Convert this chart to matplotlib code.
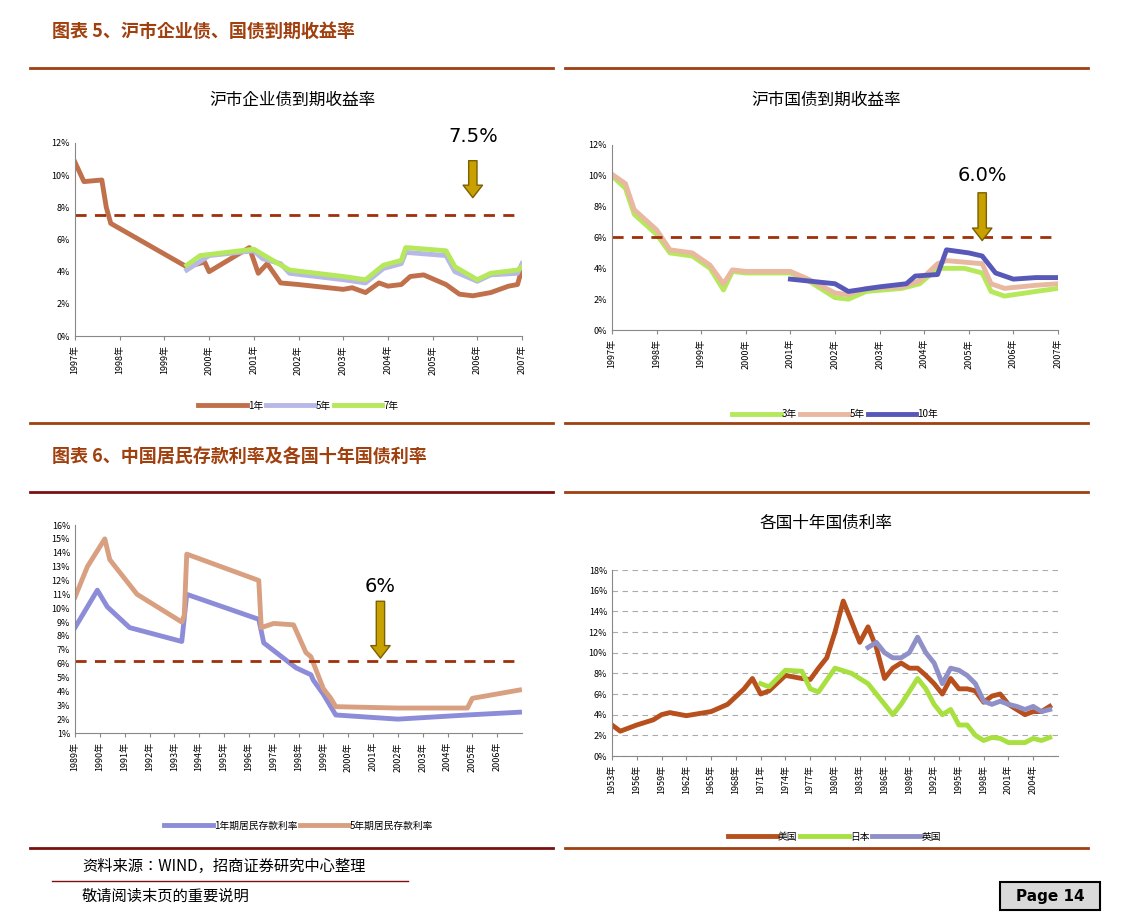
import matplotlib
matplotlib.use("Agg")
import matplotlib.pyplot as plt
from matplotlib import font_manager as fm
from matplotlib.ticker import FuncFormatter

cjk = None
for f in fm.findSystemFonts():
    if 'CJK' in f or 'cjk' in f.lower():
        try:
            fm.fontManager.addfont(f)
        except Exception:
            pass
names = sorted({e.name for e in fm.fontManager.ttflist if 'CJK' in e.name})
pref = [n for n in ['Noto Sans CJK SC', 'Noto Sans CJK JP', 'Noto Sans CJK TC', 'Noto Sans CJK KR'] if n in names]
CJK = (pref + names + ['DejaVu Sans'])[0]
plt.rcParams['font.family'] = [CJK, 'DejaVu Sans']

W, H = 1133, 921
fig = plt.figure(figsize=(W/100, H/100), dpi=100)
BR = '#A0400F'

def ax_px(x0, y0, x1, y1):
    return fig.add_axes([x0/W, 1-y1/H, (x1-x0)/W, (y1-y0)/H])

def ftext(x, y, s, **kw):
    fig.text(x/W, 1-y/H, s, **kw)

def hline(x0, x1, y, color, lw=2):
    fig.add_artist(plt.Line2D([x0/W, x1/W], [1-y/H, 1-y/H], color=color, lw=lw))

# ---------------- data ----------------
p1_t1 = [1997.0,1997.2,1997.6,1997.7,1997.8,1999.5,1999.9,2000.0,2000.9,2001.1,2001.3,2001.6,2002.0,2003.0,2003.2,2003.5,2003.8,2004.0,2004.3,2004.5,2004.8,2005.3,2005.6,2005.9,2006.3,2006.7,2006.9,2007.0]
p1_v1 = [10.8,9.6,9.7,8.0,7.0,4.3,4.6,4.0,5.5,3.9,4.5,3.3,3.2,2.9,3.0,2.7,3.3,3.1,3.2,3.7,3.8,3.2,2.6,2.5,2.7,3.1,3.2,4.2]
p1_t5 = [1999.5,2000.0,2001.0,2001.2,2001.6,2001.8,2003.0,2003.5,2003.9,2004.3,2004.4,2005.3,2005.5,2006.0,2006.3,2006.9,2007.0]
p1_v5 = [4.1,5.0,5.3,4.8,4.5,3.9,3.5,3.3,4.2,4.5,5.2,5.0,4.0,3.4,3.8,3.9,4.5]
p1_t7 = [1999.5,1999.8,2001.0,2001.3,2001.8,2003.0,2003.5,2003.9,2004.3,2004.4,2005.3,2005.5,2006.0,2006.3,2006.9,2007.0]
p1_v7 = [4.4,5.0,5.4,4.9,4.1,3.7,3.5,4.4,4.7,5.5,5.3,4.3,3.5,3.9,4.1,4.3]

p2_t3 = [1997.0,1997.3,1997.5,1998.0,1998.3,1998.8,1999.2,1999.5,1999.7,2000.0,2001.0,2001.4,2002.0,2002.3,2002.7,2003.5,2003.9,2004.3,2004.9,2005.3,2005.5,2005.8,2006.5,2007.0]
p2_v3 = [10.0,9.2,7.5,6.2,5.0,4.8,4.0,2.6,3.8,3.7,3.7,3.2,2.1,2.0,2.5,2.7,3.0,4.0,4.0,3.7,2.5,2.2,2.5,2.7]
p2_t5 = [1997.0,1997.3,1997.5,1998.0,1998.3,1998.8,1999.2,1999.5,1999.7,2000.0,2001.0,2001.4,2002.0,2002.3,2002.7,2003.5,2003.9,2004.3,2004.5,2005.3,2005.5,2005.8,2006.5,2007.0]
p2_v5 = [10.1,9.5,7.8,6.5,5.2,5.0,4.2,3.0,3.9,3.8,3.8,3.3,2.4,2.3,2.7,2.8,3.2,4.3,4.5,4.3,3.0,2.7,2.9,3.0]
p2_t10 = [2001.0,2002.0,2002.3,2003.0,2003.6,2003.8,2004.3,2004.5,2005.0,2005.3,2005.6,2006.0,2006.5,2007.0]
p2_v10 = [3.3,3.0,2.5,2.8,3.0,3.5,3.6,5.2,5.0,4.8,3.7,3.3,3.4,3.4]

p3_t1 = [1989.0,1989.9,1990.3,1991.2,1993.3,1993.5,1996.4,1996.6,1997.9,1998.5,1998.6,1999.0,1999.5,2002.0,2004.8,2006.9]
p3_v1 = [8.6,11.3,10.1,8.6,7.6,11.0,9.2,7.5,5.7,5.2,4.8,3.8,2.3,2.0,2.3,2.5]
p3_t5 = [1989.0,1989.5,1990.2,1990.4,1991.5,1993.3,1993.4,1993.5,1996.4,1996.5,1997.0,1997.8,1998.3,1998.5,1999.0,1999.3,1999.5,2002.0,2004.8,2005.0,2006.9]
p3_v5 = [10.8,13.0,15.0,13.5,11.0,9.0,9.5,13.9,12.0,8.6,8.9,8.8,6.8,6.5,4.2,3.5,2.9,2.8,2.8,3.5,4.1]

p4_tus = [1953,1954,1956,1958,1959,1960,1962,1965,1967,1969,1970,1971,1972,1974,1976,1977,1978,1979,1980,1981,1982,1983,1984,1985,1986,1987,1988,1989,1990,1991,1992,1993,1994,1995,1996,1997,1998,1999,2000,2001,2002,2003,2004,2005,2006]
p4_vus = [3.0,2.4,3.0,3.5,4.0,4.2,3.9,4.3,5.0,6.5,7.5,6.0,6.3,7.8,7.5,7.4,8.5,9.5,12.0,15.0,13.0,11.0,12.5,10.5,7.5,8.5,9.0,8.5,8.5,7.8,7.0,6.0,7.5,6.5,6.5,6.3,5.2,5.8,6.0,5.0,4.5,4.0,4.3,4.3,4.8]
p4_tjp = [1971,1972,1974,1976,1977,1978,1980,1982,1984,1986,1987,1988,1990,1991,1992,1993,1994,1995,1996,1997,1998,1999,2000,2001,2002,2003,2004,2005,2006]
p4_vjp = [7.0,6.7,8.3,8.2,6.5,6.2,8.5,8.0,7.0,5.0,4.0,5.0,7.5,6.5,5.0,4.0,4.5,3.0,3.0,2.0,1.5,1.8,1.7,1.3,1.3,1.3,1.7,1.5,1.8]
p4_tuk = [1984,1985,1986,1987,1988,1989,1990,1991,1992,1993,1994,1995,1996,1997,1998,1999,2000,2001,2002,2003,2004,2005,2006]
p4_vuk = [10.5,11.0,10.0,9.5,9.5,10.0,11.5,10.0,9.0,7.0,8.5,8.3,7.8,7.0,5.3,5.0,5.3,5.0,4.8,4.5,4.8,4.3,4.5]

# ---------------- headers ----------------
ftext(52, 31, '图表 5、沪市企业债、国债到期收益率', color=BR, fontsize=13, fontweight='bold', va='center')
ftext(52, 456, '图表 6、中国居民存款利率及各国十年国债利率', color=BR, fontsize=13, fontweight='bold', va='center')
for y in (68, 423):
    hline(30, 553, y, BR); hline(565, 1088, y, BR)
hline(30, 553, 492, '#7A1010'); hline(565, 1088, 492, BR)
hline(30, 553, 848, '#7A1010'); hline(565, 1088, 848, BR)
ftext(82, 866, '资料来源：WIND，招商证券研究中心整理', fontsize=11, va='center')
hline(52, 408, 881, '#7A1010', lw=1)
ftext(82, 896, '敬请阅读末页的重要说明', fontsize=11, va='center')
fig.add_artist(plt.Rectangle((1000/W, 1-910/H), 100/W, 28/H, facecolor='#D9D9D9',
                             edgecolor='black', lw=1.5))
ftext(1050, 896, 'Page 14', fontsize=11, fontweight='bold', ha='center', va='center',
      fontfamily='DejaVu Sans')

pct = FuncFormatter(lambda v, p: f'{v:.0f}%')

def style(ax, years, lo, hi, step, ymin, ymax):
    ax.set_xlim(lo, hi)
    ax.set_ylim(ymin, ymax)
    ax.set_xticks(years)
    ax.set_xticklabels([f'{int(y)}年' for y in years], rotation=90, fontsize=6.5)
    ax.set_yticks(range(ymin, ymax+1, step))
    ax.yaxis.set_major_formatter(pct)
    ax.tick_params(axis='y', labelsize=6.5, length=0)
    ax.tick_params(axis='x', length=3, color='#888888')
    for s in ('top', 'right'):
        ax.spines[s].set_visible(False)
    for s in ('left', 'bottom'):
        ax.spines[s].set_color('#888888')

def arrow(ax, x, y0, y1, label, ylabel):
    ax.annotate('', xy=(x, y1), xytext=(x, y0),
                arrowprops=dict(facecolor='#C8A000', edgecolor='#7A6000', width=6, headwidth=14, headlength=9))
    ax.text(x, ylabel, label, ha='center', va='center', fontsize=14, fontfamily='DejaVu Sans')

def legend(ax, y):
    return ax.legend(loc='upper center', bbox_to_anchor=(0.5, y), ncol=3, frameon=False,
                     fontsize=7, handlelength=5, columnspacing=0.3, handletextpad=0.1)

# ---------------- panel 1 ----------------
ftext(292, 100, '沪市企业债到期收益率', fontsize=12, ha='center', va='center')
ax1 = ax_px(75, 143, 522, 336)
ax1.plot(p1_t1, p1_v1, color='#C0704A', lw=3.5, label='1年')
ax1.plot(p1_t5, p1_v5, color='#B8B8E8', lw=3.5, label='5年')
ax1.plot(p1_t7, p1_v7, color='#B5E85A', lw=3.5, label='7年')
ax1.axhline(7.5, color='#A0300A', lw=2, ls=(0, (4, 3)))
style(ax1, list(range(1997, 2008)), 1997, 2007, 2, 0, 12)
arrow(ax1, 2005.9, 10.9, 8.6, '7.5%', 12.4)
legend(ax1, -0.29)

# ---------------- panel 2 ----------------
ftext(826, 100, '沪市国债到期收益率', fontsize=12, ha='center', va='center')
ax2 = ax_px(612, 145, 1058, 330)
ax2.plot(p2_t3, p2_v3, color='#B5E85A', lw=3.5, label='3年')
ax2.plot(p2_t5, p2_v5, color='#E8B8A0', lw=3.5, label='5年')
ax2.plot(p2_t10, p2_v10, color='#5858B8', lw=3.5, label='10年')
ax2.axhline(6.0, color='#A0300A', lw=2, ls=(0, (4, 3)))
style(ax2, list(range(1997, 2008)), 1997, 2007, 2, 0, 12)
arrow(ax2, 2005.3, 8.9, 5.8, '6.0%', 10.0)
legend(ax2, -0.38)

# ---------------- panel 3 ----------------
ax3 = ax_px(75, 525, 522, 733)
ax3.plot(p3_t1, p3_v1, color='#8C8CD8', lw=3.5, label='1年期居民存款利率')
ax3.plot(p3_t5, p3_v5, color='#D8A080', lw=3.5, label='5年期居民存款利率')
ax3.axhline(6.2, color='#A0300A', lw=2, ls=(0, (4, 3)))
style(ax3, list(range(1989, 2007)), 1989, 2007, 1, 1, 16)
arrow(ax3, 2001.3, 10.5, 6.4, '6%', 11.6)
legend(ax3, -0.38)

# ---------------- panel 4 ----------------
ftext(826, 523, '各国十年国债利率', fontsize=12, ha='center', va='center')
ax4 = ax_px(612, 570, 1058, 756)
ax4.plot(p4_tus, p4_vus, color='#B8501E', lw=3.5, label='美国')
ax4.plot(p4_tjp, p4_vjp, color='#A8E040', lw=3.5, label='日本')
ax4.plot(p4_tuk, p4_vuk, color='#9090C8', lw=3.5, label='英国')
style(ax4, list(range(1953, 2006, 3)), 1953, 2007, 2, 0, 18)
ax4.yaxis.grid(True, ls=(0, (5, 4)), color='#AAAAAA', lw=0.8)
ax4.set_axisbelow(True)
legend(ax4, -0.36)

fig.savefig('out.png', dpi=100)
